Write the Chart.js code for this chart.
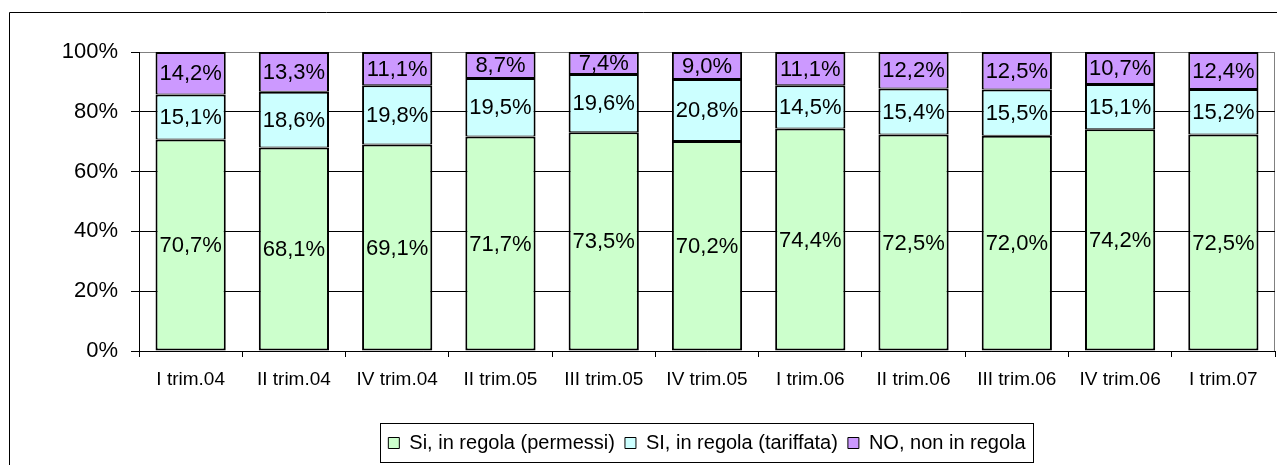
<!DOCTYPE html>
<html>
<head>
<meta charset="utf-8">
<script src="https://cdn.jsdelivr.net/npm/chart.js@4"></script>
<style>
  body { margin: 0; background: #fff; }
</style>
</head>
<body>
<canvas id="myChart" width="1277" height="465"></canvas>
<script>
const categorie = ['I trim.04', 'II trim.04', 'IV trim.04', 'II trim.05', 'III trim.05', 'IV trim.05',
                   'I trim.06', 'II trim.06', 'III trim.06', 'IV trim.06', 'I trim.07'];
const siPermessi  = [70.7, 68.1, 69.1, 71.7, 73.5, 70.2, 74.4, 72.5, 72.0, 74.2, 72.5];
const siTariffata = [15.1, 18.6, 19.8, 19.5, 19.6, 20.8, 14.5, 15.4, 15.5, 15.1, 15.2];
const noRegola    = [14.2, 13.3, 11.1, 8.7, 7.4, 9.0, 11.1, 12.2, 12.5, 10.7, 12.4];
const nomiSerie = ['Si, in regola (permessi)', 'SI, in regola (tariffata)', 'NO, non in regola'];
const colori = ['#CCFFCC', '#CCFFFF', '#CC99FF'];

const font = 'Arial, "Liberation Sans", sans-serif';

// 100% stacked: every column is scaled to its own total
const totali = categorie.map((c, i) => siPermessi[i] + siTariffata[i] + noRegola[i]);
const perc = arr => arr.map((v, i) => v / totali[i] * 100);

function serie(idx, valori, bordo) {
  return {
    label: nomiSerie[idx],
    data: perc(valori),
    valori: valori,
    backgroundColor: colori[idx],
    borderColor: '#000',
    borderWidth: bordo,
    borderSkipped: false,
    inflateAmount: 0,
    barPercentage: 0.68,
    categoryPercentage: 1
  };
}

const cornice = {
  id: 'cornice',
  beforeDraw(chart) {
    const ctx = chart.ctx;
    ctx.save();
    ctx.fillStyle = '#fff';
    ctx.fillRect(0, 0, chart.width, chart.height);
    ctx.strokeStyle = '#000';
    ctx.lineWidth = 1;
    ctx.beginPath();
    ctx.moveTo(9.5, chart.height + 5);
    ctx.lineTo(9.5, 12.5);
    ctx.lineTo(chart.width + 5, 12.5);
    ctx.stroke();
    // grey right edge of plot area
    const a = chart.chartArea;
    ctx.strokeStyle = '#808080';
    ctx.beginPath();
    ctx.moveTo(Math.round(a.right) - 0.5, a.top);
    ctx.lineTo(Math.round(a.right) - 0.5, a.bottom);
    ctx.stroke();
    ctx.restore();
  },
  afterDraw(chart) {
    const boxes = chart.legend.legendHitBoxes;
    if (!boxes || !boxes.length) return;
    const l = Math.min(...boxes.map(b => b.left)) - 8;
    const r = Math.max(...boxes.map(b => b.left + b.width)) + 8;
    const t = chart.legend.top;
    const ctx = chart.ctx;
    ctx.save();
    ctx.strokeStyle = '#000';
    ctx.lineWidth = 1;
    ctx.strokeRect(Math.round(l) + 0.5, Math.round(t) + 0.5, Math.round(r - l), 39);
    ctx.restore();
  }
};

const etichette = {
  id: 'etichette',
  afterDatasetsDraw(chart) {
    const ctx = chart.ctx;
    ctx.save();
    ctx.font = '22px ' + font;
    ctx.fillStyle = '#000';
    ctx.textAlign = 'center';
    ctx.textBaseline = 'middle';
    chart.data.datasets.forEach((ds, i) => {
      chart.getDatasetMeta(i).data.forEach((bar, j) => {
        const p = bar.getProps(['x', 'y', 'base'], true);
        const testo = ds.valori[j].toFixed(1).replace('.', ',') + '%';
        ctx.fillText(testo, p.x, (p.y + p.base) / 2 + 1);
      });
    });
    ctx.restore();
  }
};

new Chart(document.getElementById('myChart'), {
  type: 'bar',
  data: {
    labels: categorie,
    datasets: [
      serie(0, siPermessi, {left: 2, right: 2, bottom: 2, top: 2}),
      serie(1, siTariffata, {left: 2, right: 2, bottom: 1, top: 2}),
      serie(2, noRegola, {left: 2, right: 2, bottom: 1, top: 2})
    ]
  },
  options: {
    responsive: false,
    animation: false,
    layout: { padding: { top: 52, left: 0, right: 2, bottom: 2 } },
    plugins: {
      tooltip: { enabled: false },
      legend: {
        position: 'bottom',
        fullSize: false,
        labels: {
          color: '#000',
          font: { family: font, size: 20 },
          boxWidth: 11,
          boxHeight: 11,
          padding: 10,
          generateLabels(chart) {
            return Chart.defaults.plugins.legend.labels.generateLabels(chart).map(it => {
              it.lineWidth = 1;
              return it;
            });
          }
        }
      }
    },
    scales: {
      x: {
        stacked: true,
        grid: { offset: true, drawOnChartArea: false, tickLength: 6, color: '#000' },
        border: { color: '#000' },
        ticks: { color: '#000', font: { family: font, size: 19 }, padding: 11, maxRotation: 0, autoSkip: false },
        afterFit(s) { s.height = 72; }
      },
      y: {
        stacked: true,
        min: 0,
        max: 100,
        grid: {
          color: c => (c.tick && c.tick.value === 100) ? '#808080' : '#000',
          tickColor: '#000',
          tickLength: 8
        },
        border: { color: '#000' },
        ticks: { stepSize: 20, color: '#000', font: { family: font, size: 22 }, padding: 13,
                 callback: v => v + '%' },
        afterFit(s) { s.width = 139; }
      }
    }
  },
  plugins: [cornice, etichette]
});
</script>
</body>
</html>
